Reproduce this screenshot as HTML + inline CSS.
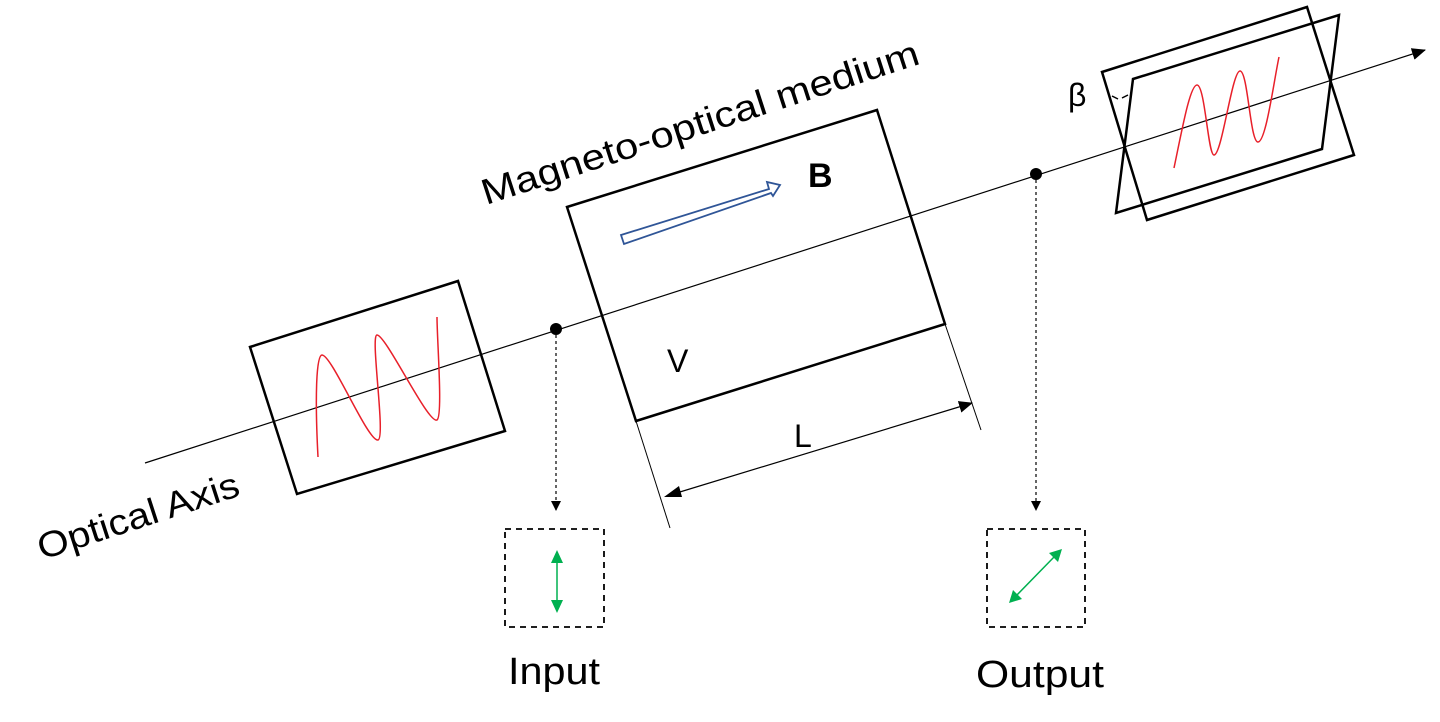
<!DOCTYPE html>
<html><head><meta charset="utf-8"><style>
html,body{margin:0;padding:0;background:#fff;}
svg{display:block;}
text{font-family:"Liberation Sans","DejaVu Sans",sans-serif;}
</style></head><body>
<svg width="1440" height="722" viewBox="0 0 1440 722" xmlns="http://www.w3.org/2000/svg">
<defs>
<marker id="ah" markerWidth="10" markerHeight="10" refX="9" refY="5" orient="auto" markerUnits="userSpaceOnUse"><path d="M0,0 L10,5 L0,10 z" fill="#000"/></marker>
<marker id="ah2" markerWidth="14" markerHeight="12" refX="13" refY="6" orient="auto" markerUnits="userSpaceOnUse"><path d="M0,0 L14,6 L0,12 z" fill="#000"/></marker>
</defs>
<line x1="145" y1="463" x2="1425" y2="50" stroke="#000" stroke-width="1.2" marker-end="url(#ah2)"/>
<polygon points="250,347 458,281 505,431 297,494" fill="none" stroke="#000" stroke-width="2.5"/>
<path d="M318,457 C315,400 316,355 322,355 C332,355 368,442 378,440 C386,438 370,335 377,335 C386,335 428,424 437,420 C443,416 437,340 437,317" fill="none" stroke="#e8202a" stroke-width="1.5"/>
<polygon points="567,207 877,110 945,324 636,421" fill="none" stroke="#000" stroke-width="2.5"/>
<line x1="636" y1="421" x2="670" y2="528" stroke="#000" stroke-width="1"/>
<line x1="945" y1="324" x2="981" y2="430" stroke="#000" stroke-width="1"/>
<line x1="670" y1="495" x2="972" y2="403" stroke="#000" stroke-width="1.2" marker-end="url(#ah2)"/>
<polygon points="664,497 679,486 682,497" fill="#000"/>
<polygon points="621,235 769,189 767,182 780,185 773,196 771,193 624,244" fill="none" stroke="#2f5597" stroke-width="1.8"/>
<text x="808" y="187" font-size="34" font-weight="bold">B</text>
<text x="667" y="372" font-size="32">V</text>
<text x="794" y="447" font-size="32">L</text>
<text x="0" y="0" font-size="36" textLength="458" lengthAdjust="spacingAndGlyphs" transform="translate(486,205) rotate(-18)">Magneto-optical medium</text>
<text x="0" y="0" font-size="36" textLength="210" lengthAdjust="spacingAndGlyphs" transform="translate(42,560) rotate(-18)">Optical Axis</text>
<polygon points="1102,72 1307,7 1354,155 1147,220" fill="none" stroke="#000" stroke-width="2.5"/>
<polygon points="1133,79 1339,15 1322,149 1116,213" fill="none" stroke="#000" stroke-width="2.5"/>
<path d="M1174,168 C1182,130 1190,85 1197,85 C1205,85 1208,155 1214,155 C1222,155 1232,71 1240,71 C1248,71 1250,142 1258,142 C1266,142 1274,80 1279,57" fill="none" stroke="#e8202a" stroke-width="1.5"/>
<text x="1068" y="106" font-size="32">β</text>
<path d="M1112,96 L1118,99 M1122,98 L1128,95" stroke="#000" stroke-width="1.5"/>
<circle cx="556" cy="329" r="6" fill="#000"/>
<circle cx="1036" cy="174" r="6" fill="#000"/>
<line x1="556" y1="329" x2="556" y2="510" stroke="#000" stroke-width="1.2" stroke-dasharray="3,3" marker-end="url(#ah)"/>
<line x1="1036" y1="174" x2="1036" y2="510" stroke="#000" stroke-width="1.2" stroke-dasharray="3,3" marker-end="url(#ah)"/>
<rect x="505" y="529" width="99" height="98" fill="none" stroke="#000" stroke-width="1.8" stroke-dasharray="6,5"/>
<rect x="987" y="529" width="98" height="98" fill="none" stroke="#000" stroke-width="1.8" stroke-dasharray="6,5"/>
<line x1="557" y1="560" x2="557" y2="603" stroke="#00b050" stroke-width="1.5"/>
<polygon points="557,550 551,563 563,563" fill="#00b050"/>
<polygon points="557,613 551,600 563,600" fill="#00b050"/>
<line x1="1055" y1="556" x2="1016" y2="596" stroke="#00b050" stroke-width="1.5"/>
<polygon points="1062,549 1049,553 1058,562" fill="#00b050"/>
<polygon points="1009,603 1013,590 1022,599" fill="#00b050"/>
<text x="508" y="684" font-size="38" textLength="92" lengthAdjust="spacingAndGlyphs">Input</text>
<text x="976" y="687" font-size="38" textLength="128" lengthAdjust="spacingAndGlyphs">Output</text>
</svg>
</body></html>
